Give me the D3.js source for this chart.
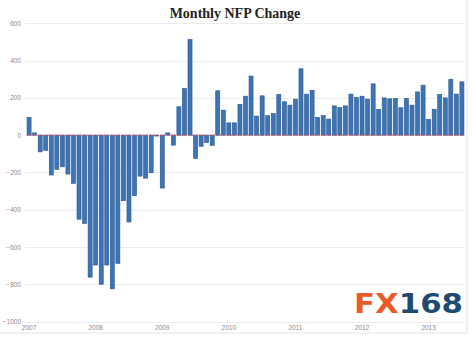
<!DOCTYPE html>
<html>
<head>
<meta charset="utf-8">
<script src="https://cdn.jsdelivr.net/npm/d3@7"></script>
<style>
html,body{margin:0;padding:0;background:#fff;}
svg{display:block;}
</style>
</head>
<body>
<svg id="chart" width="474" height="339"></svg>
<script>
// Monthly NFP change (thousands), Jan 2007 .. Jul 2013
const startYear = 2007;
const nfpValues = [
  95, 12, -90, -82, -214, -184, -170, -209, -259, -451, -474, -762,
  -697, -800, -697, -825, -688, -352, -466, -325, -220, -231, -202, -5,
  -284, 12, -54, 152, 250, 513, -125, -60, -40, -55, 238, 134,
  66, 66, 165, 209, 317, 102, 211, 104, 116, 218, 179, 161,
  193, 356, 220, 241, 95, 105, 86, 157, 148, 157, 220, 202,
  209, 193, 275, 138, 200, 195, 197, 147, 197, 161, 232, 268,
  84, 139, 218, 200, 300, 220, 286
];
const yTicks = [600, 400, 200, 0, -200, -400, -600, -800, -1000];
const yearLabels = ["2007", "2008", "2009", "2010", "2011", "2012", "2013"];
const titleText = "Monthly NFP Change";

const months = nfpValues.map((v, i) => i);

const svg = d3.select("#chart");

const x = d3.scaleBand().domain(months).range([26.5, 464.5]).paddingInner(0.27).paddingOuter(0.1);
const y = d3.scaleLinear().domain([-1000, 600]).range([321.5, 23.3]);

// frame
svg.append("line").attr("x1", 467).attr("x2", 467).attr("y1", 0).attr("y2", 333)
  .attr("stroke", "#e4e4e4").attr("stroke-width", 1);
svg.append("line").attr("x1", 0).attr("x2", 467).attr("y1", 333).attr("y2", 333)
  .attr("stroke", "#e4e4e4").attr("stroke-width", 1);

// gridlines
svg.append("g").selectAll("line").data(yTicks).join("line")
  .attr("x1", 25).attr("x2", 464)
  .attr("y1", d => Math.round(y(d)) + 0.5).attr("y2", d => Math.round(y(d)) + 0.5)
  .attr("stroke", "#ececec").attr("stroke-width", 1);

// y axis labels
const yAxis = d3.axisLeft(y).tickValues(yTicks).tickSize(0).tickPadding(0).tickFormat(d3.format("d"));
const gy = svg.append("g").attr("transform", "translate(21,0)").call(yAxis);
gy.select(".domain").remove();
gy.selectAll("text").attr("fill", "#8a8a8a").attr("font-size", "6.5px")
  .attr("font-family", "Liberation Sans, Arial, sans-serif");

// x axis labels
const xAxis = d3.axisBottom(x)
  .tickValues(yearLabels.map((l, k) => k * 12))
  .tickSize(0).tickPadding(0)
  .tickFormat(d => yearLabels[d / 12]);
const gx = svg.append("g").attr("transform", "translate(0,325)").call(xAxis);
gx.select(".domain").remove();
gx.selectAll("text").attr("fill", "#8a8a8a").attr("font-size", "6.5px")
  .attr("font-family", "Liberation Sans, Arial, sans-serif");

// bars
svg.append("g").selectAll("rect").data(nfpValues).join("rect")
  .attr("x", (d, i) => x(i))
  .attr("width", x.bandwidth())
  .attr("y", d => y(Math.max(0, d)))
  .attr("height", d => Math.abs(y(d) - y(0)))
  .attr("fill", "#3c74b4")
  .attr("stroke", "#2a5690")
  .attr("stroke-width", 0.6);

// zero line (red dashed)
svg.append("line").attr("x1", 27).attr("x2", 464)
  .attr("y1", y(0)).attr("y2", y(0))
  .attr("stroke", "#e0505e").attr("stroke-width", 1).attr("stroke-dasharray", "2,1.5");

// title
svg.append("text").attr("x", 235).attr("y", 18).attr("text-anchor", "middle")
  .attr("font-family", "Liberation Serif, Times New Roman, serif")
  .attr("font-weight", "bold").attr("font-size", "14px").attr("fill", "#222")
  .text(titleText);

// FX168 logo
const logo = svg.append("text").attr("x", 354).attr("y", 313)
  .attr("font-family", "DejaVu Sans, sans-serif").attr("font-weight", "bold")
  .attr("font-size", "27px")
  .attr("textLength", 109).attr("lengthAdjust", "spacingAndGlyphs");
logo.append("tspan").attr("fill", "#e95c2a").text("FX");
logo.append("tspan").attr("fill", "#1d4a70").text("168");
</script>
</body>
</html>
